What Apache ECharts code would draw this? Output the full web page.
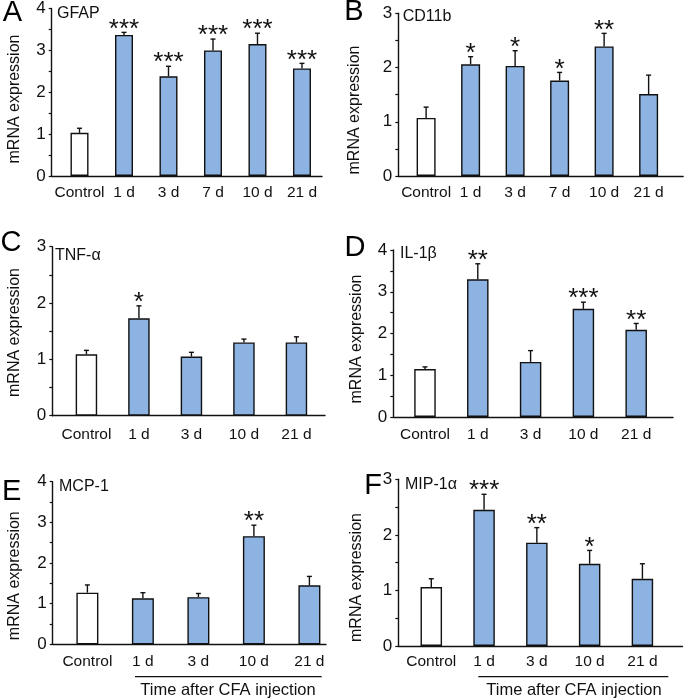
<!DOCTYPE html>
<html>
<head>
<meta charset="utf-8">
<script src="https://cdn.jsdelivr.net/npm/echarts@6/dist/echarts.min.js"></script>
<style>
html,body{margin:0;padding:0;background:#fff;}
#chart{width:685px;height:700px;}
</style>
</head>
<body>
<div id="chart"></div>
<script>
// ---------- DATA ----------
const cats6 = ['Control', '1 d', '3 d', '7 d', '10 d', '21 d'];
const cats5 = ['Control', '1 d', '3 d', '10 d', '21 d'];

const gfapMean = [1.03, 3.37, 2.38, 3.00, 3.15, 2.57];
const gfapErr  = [0.11, 0.06, 0.24, 0.27, 0.26, 0.12];
const gfapSig  = ['', '***', '***', '***', '***', '***'];

const cd11bMean = [1.07, 2.06, 2.03, 1.76, 2.39, 1.51];
const cd11bErr  = [0.20, 0.14, 0.28, 0.15, 0.24, 0.35];
const cd11bSig  = ['', '*', '*', '*', '**', ''];

const tnfMean = [1.09, 1.73, 1.05, 1.30, 1.30];
const tnfErr  = [0.07, 0.22, 0.075, 0.06, 0.10];
const tnfSig  = ['', '*', '', '', ''];

const il1bMean = [1.15, 3.30, 1.32, 2.59, 2.09];
const il1bErr  = [0.05, 0.37, 0.27, 0.16, 0.15];
const il1bSig  = ['', '**', '', '***', '**'];

const mcpMean = [1.27, 1.13, 1.16, 2.66, 1.45];
const mcpErr  = [0.19, 0.14, 0.09, 0.27, 0.22];
const mcpSig  = ['', '', '', '**', ''];

const mipMean = [1.06, 2.45, 1.86, 1.48, 1.21];
const mipErr  = [0.15, 0.28, 0.27, 0.24, 0.27];
const mipSig  = ['', '***', '**', '*', ''];

const yTicksMax = { A: 4, B: 3, C: 3, D: 4, E: 4, F: 3 };
const yAxisTitle = 'mRNA expression';
const timeLabel = 'Time after CFA injection';

// ---------- LAYOUT ----------
const FONT = '"Liberation Sans", Arial, Helvetica, sans-serif';
const INK = '#111111';
const BLUE = '#8db3e2';

const panels = [
  { key:'A', letter:'A', title:'GFAP', cats:cats6, mean:gfapMean, err:gfapErr, sig:gfapSig,
    left:51.7, top:7, width:270.3, height:169, xmin:-0.625, xmax:5.45, barW:18, labelMargin:9,
    letterPos:[12.5,13], titlePos:[57,14], namePos:[15,99] },
  { key:'B', letter:'B', title:'CD11b', cats:cats6, mean:cd11bMean, err:cd11bErr, sig:cd11bSig,
    left:398.3, top:13.3, width:285.7, height:162.7, xmin:-0.625, xmax:5.775, barW:19, labelMargin:9,
    letterPos:[354,12], titlePos:[402.7,16.7], namePos:[355,110] },
  { key:'C', letter:'C', title:'TNF-α', cats:cats5, mean:tnfMean, err:tnfErr, sig:tnfSig,
    left:52.3, top:246.7, width:272.7, height:169, xmin:-0.65, xmax:4.544, barW:21.5, labelMargin:11,
    letterPos:[11,243], titlePos:[55,255.7], namePos:[15,332.5] },
  { key:'D', letter:'D', title:'IL-1β', cats:cats5, mean:il1bMean, err:il1bErr, sig:il1bSig,
    left:393.3, top:250, width:279.7, height:167, xmin:-0.6, xmax:4.697, barW:21.5, labelMargin:10,
    letterPos:[355,247.5], titlePos:[400,253.3], namePos:[356.7,339] },
  { key:'E', letter:'E', title:'MCP-1', cats:cats5, mean:mcpMean, err:mcpErr, sig:mcpSig,
    left:52.7, top:481.7, width:273.3, height:162.6, xmin:-0.625, xmax:4.299, barW:22, labelMargin:9,
    letterPos:[11.7,491.7], titlePos:[59,486.7], namePos:[15,575.7],
    time:{ x1:135, x2:321.7, y:676.7, tx:228, ty:690 } },
  { key:'F', letter:'F', title:'MIP-1α', cats:cats5, mean:mipMean, err:mipErr, sig:mipSig,
    left:398.3, top:479.3, width:284.7, height:166.7, xmin:-0.625, xmax:4.759, barW:21.5, labelMargin:8,
    letterPos:[373,485.5], titlePos:[405,485], namePos:[356.7,577.5],
    time:{ x1:478.3, x2:668.3, y:676.7, tx:574, ty:690 } }
];

const grids = [], xAxes = [], yAxes = [], series = [], graphics = [];

panels.forEach((p, gi) => {
  grids.push({ left:p.left, top:p.top, width:p.width, height:p.height, containLabel:false });
  const cats = p.cats;
  xAxes.push({
    type:'value', gridIndex:gi, min:p.xmin, max:p.xmax, interval:0.025,
    axisLine:{ show:true, onZero:false, lineStyle:{ color:INK, width:1.4 } },
    axisTick:{ show:false }, splitLine:{ show:false },
    axisLabel:{
      show:true, margin:p.labelMargin, color:INK, fontFamily:FONT, fontSize:15.5,
      showMinLabel:false, showMaxLabel:false,
      formatter:(v) => {
        const r = Math.round(v);
        return (Math.abs(v - r) < 1e-6 && r >= 0 && r < cats.length) ? cats[r] : '';
      }
    }
  });
  yAxes.push({
    type:'value', gridIndex:gi, min:0, max:yTicksMax[p.key], interval:1,
    axisLine:{ show:true, onZero:false, lineStyle:{ color:INK, width:1.4 } },
    axisTick:{ show:true, length:3, lineStyle:{ color:INK, width:1.2 } },
    minorTick:{ show:true, splitNumber:2, length:3, lineStyle:{ color:INK, width:1.2 } },
    splitLine:{ show:false },
    axisLabel:{ margin:6, color:INK, fontFamily:FONT, fontSize:17 }
  });
  series.push({
    type:'bar', xAxisIndex:gi, yAxisIndex:gi, barWidth:p.barW, animation:false,
    data:p.mean.map((m, i) => ({
      value:[i, m],
      itemStyle:{ color: i === 0 ? '#ffffff' : BLUE, borderColor:INK, borderWidth:1.4 }
    }))
  });
  const sig = p.sig;
  series.push({
    type:'custom', xAxisIndex:gi, yAxisIndex:gi, z:5, animation:false,
    data:p.mean.map((m, i) => [i, m, p.err[i]]),
    renderItem:(params, api) => {
      const x = api.value(0), m = api.value(1), e = api.value(2);
      const b = api.coord([x, m]);
      const t = api.coord([x, m + e]);
      const children = [
        { type:'line', shape:{ x1:b[0], y1:b[1], x2:t[0], y2:t[1] }, style:{ stroke:INK, lineWidth:1.4 } },
        { type:'line', shape:{ x1:t[0]-2.5, y1:t[1], x2:t[0]+2.5, y2:t[1] }, style:{ stroke:INK, lineWidth:1.4 } }
      ];
      const s = sig[params.dataIndex];
      if (s) {
        children.push({ type:'text', style:{
          text:s, x:t[0], y:t[1] - 3,
          fill:INK, font:'26px ' + FONT, align:'center', verticalAlign:'middle'
        }});
      }
      return { type:'group', children };
    }
  });

  graphics.push({ type:'text', x:p.letterPos[0], y:p.letterPos[1],
    style:{ text:p.letter, fill:'#000', font:'29px ' + FONT, align:'center', verticalAlign:'middle' } });
  graphics.push({ type:'text', x:p.titlePos[0], y:p.titlePos[1],
    style:{ text:p.title, fill:INK, font:'16px ' + FONT, align:'left', verticalAlign:'middle' } });
  graphics.push({ type:'text', x:p.namePos[0], y:p.namePos[1], rotation:Math.PI/2,
    style:{ text:yAxisTitle, fill:INK, font:'16px ' + FONT, align:'center', verticalAlign:'middle' } });
  if (p.time) {
    graphics.push({ type:'line', shape:{ x1:p.time.x1, y1:p.time.y, x2:p.time.x2, y2:p.time.y },
      style:{ stroke:INK, lineWidth:1.3 } });
    graphics.push({ type:'text', x:p.time.tx, y:p.time.ty,
      style:{ text:timeLabel, fill:INK, font:'16.5px ' + FONT, align:'center', verticalAlign:'middle' } });
  }
});

const chart = echarts.init(document.getElementById('chart'), null, { renderer:'canvas' });
chart.setOption({
  backgroundColor:'#ffffff',
  animation:false,
  grid:grids, xAxis:xAxes, yAxis:yAxes, series:series, graphic:graphics
});
</script>
</body>
</html>
